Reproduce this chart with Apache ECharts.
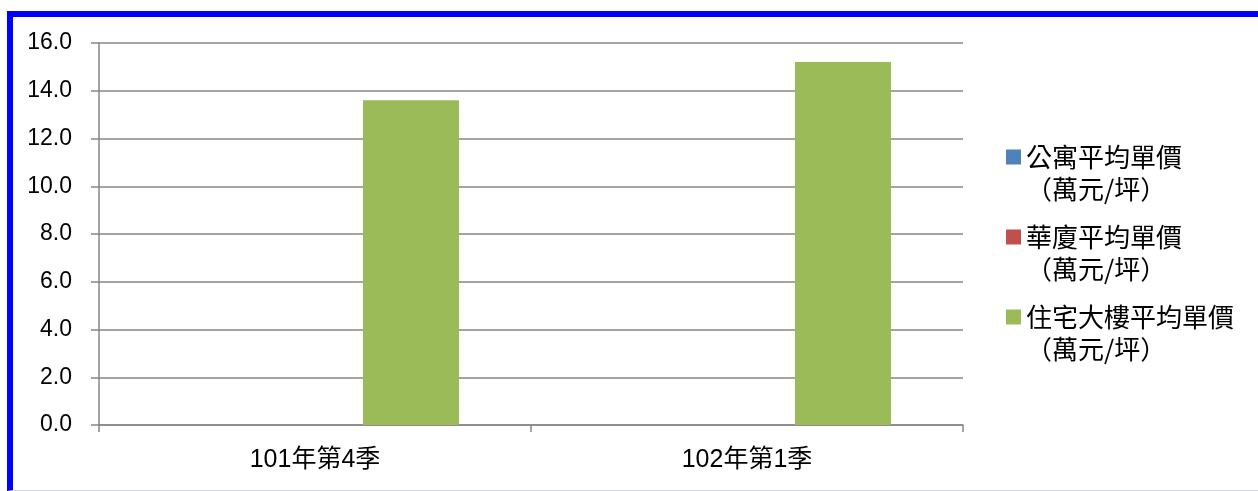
<!DOCTYPE html>
<html>
<head>
<meta charset="utf-8">
<script src="https://cdn.jsdelivr.net/npm/echarts@6/dist/echarts.min.js"></script>
<style>
html,body{margin:0;padding:0;width:1258px;height:491px;overflow:hidden;background:#fff;}
#frame{position:absolute;left:7px;top:11px;width:1300px;height:473px;border-top:6px solid #0000ff;border-left:6px solid #0000ff;border-bottom:1px solid #d8d8f6;box-sizing:content-box;}
#chart{position:absolute;left:0;top:0;width:1258px;height:491px;}
</style>
</head>
<body>
<div id="frame"></div>
<div id="chart"></div>
<script>
const categories = ['101年第4季', '102年第1季'];
const seriesNames = ['公寓平均單價\n（萬元/坪）', '華廈平均單價\n（萬元/坪）', '住宅大樓平均單價\n（萬元/坪）'];
const apartmentValues = [null, null];
const mansionValues = [null, null];
const buildingValues = [13.6, 15.2];
const yTicks = [0, 2, 4, 6, 8, 10, 12, 14, 16];
const colors = ['#4F81BD', '#C0504D', '#9BBB59'];

const chart = echarts.init(document.getElementById('chart'), null, {renderer: 'canvas'});
const axisColor = '#868686';
const latin = '"Liberation Sans", "Noto Sans CJK TC", sans-serif';
const cjk = '"Noto Sans CJK TC", "Liberation Sans", sans-serif';

const option = {
  animation: false,
  backgroundColor: 'transparent',
  color: colors,
  grid: {left: 99, right: 295, top: 43, bottom: 66, containLabel: false},
  legend: {
    orient: 'vertical',
    left: 1006,
    top: 109,
    padding: 0,
    itemWidth: 15,
    itemHeight: 15,
    itemGap: -16,
    icon: 'rect',
    data: seriesNames,
    formatter: function (name) { return '\n' + name; },
    textStyle: {fontFamily: cjk, fontSize: 26, lineHeight: 32, color: '#000'}
  },
  xAxis: {
    type: 'category',
    data: categories,
    axisLine: {show: true, lineStyle: {color: axisColor, width: 1.5}},
    axisTick: {show: true, length: 7, inside: false, lineStyle: {color: axisColor, width: 1.5}},
    axisLabel: {margin: 23, fontFamily: latin, fontSize: 25, color: '#000'},
    splitLine: {show: false}
  },
  yAxis: {
    type: 'value',
    min: yTicks[0],
    max: yTicks[yTicks.length - 1],
    interval: 2,
    axisLine: {show: true, lineStyle: {color: axisColor, width: 1.5}},
    axisTick: {show: true, length: 8, inside: false, lineStyle: {color: axisColor, width: 1.5}},
    axisLabel: {margin: 27, fontFamily: latin, fontSize: 23, color: '#000',
      formatter: function (v) { return v.toFixed(1); }},
    splitLine: {show: true, lineStyle: {color: axisColor, width: 1.5}}
  },
  series: [
    {name: seriesNames[0], type: 'bar', data: apartmentValues, barGap: '0%', barCategoryGap: '33.33%'},
    {name: seriesNames[1], type: 'bar', data: mansionValues, barGap: '0%', barCategoryGap: '33.33%'},
    {name: seriesNames[2], type: 'bar', data: buildingValues, barGap: '0%', barCategoryGap: '33.33%'}
  ]
};
chart.setOption(option);
</script>
</body>
</html>
